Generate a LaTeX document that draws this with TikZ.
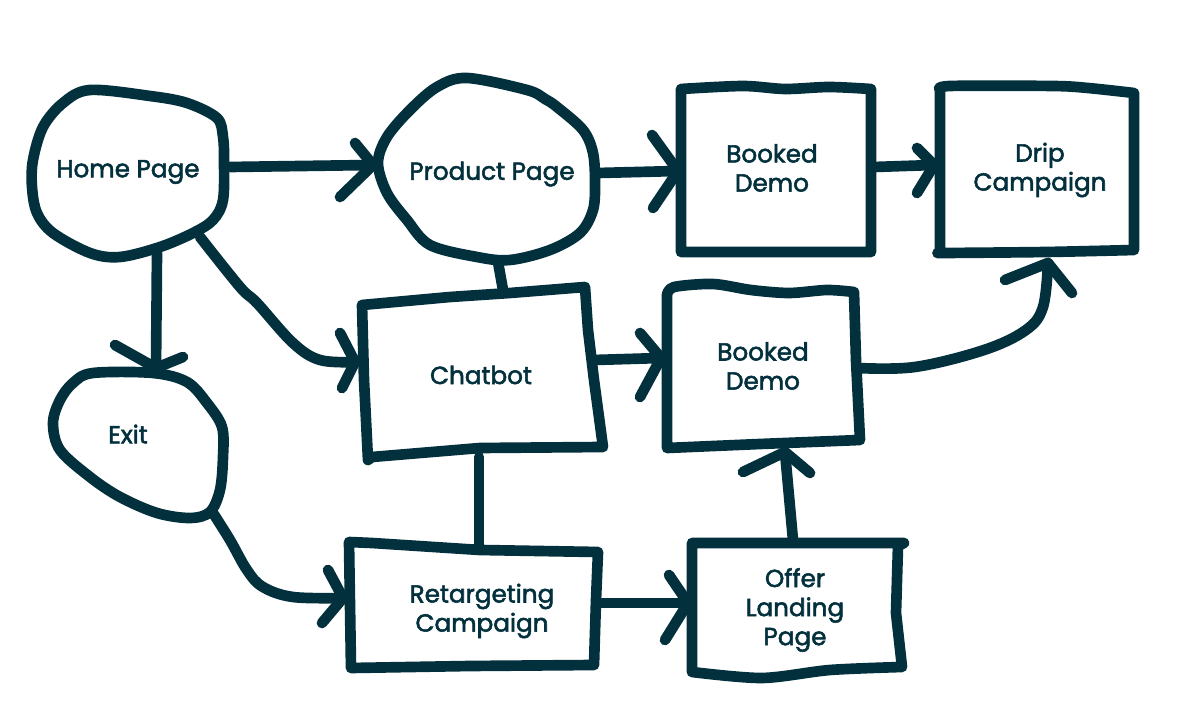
\documentclass[tikz,border=0pt]{standalone}
\usepackage{fontspec}
\setmainfont{Poppins}[FakeBold=2.2]
\usetikzlibrary{calc}
\definecolor{ink}{HTML}{03303D}
\begin{document}
\begin{tikzpicture}[x=0.75pt,y=-0.75pt,
  ln/.style={draw=ink,line width=8pt,line cap=round,line join=round},
  lbl/.style={text=ink,font=\fontsize{18.5pt}{21.8pt}\selectfont,align=center,inner sep=0pt}]
\useasboundingbox (0,0) rectangle (1200,705);
% ---------- shapes ----------
% Home Page blob
\draw[ln] plot[smooth cycle,tension=0.55] coordinates {(90,90) (150,96) (187,103) (217,118) (223,137) (224,160) (223,200) (213,220) (193,233) (160,247) (120,257) (90,253) (53,233) (37,213) (32,187) (33,160) (43,127) (63,103)};
% Product Page blob
\draw[ln] plot[smooth cycle,tension=0.55] coordinates {(467,78) (527,90) (545,99) (557,107) (583,130) (593,153) (595,183) (593,210) (580,233) (550,250) (510,260) (477,257) (430,245) (407,220) (387,193) (378,163) (387,137) (410,110) (437,87)};
% Exit blob
\draw[ln] plot[smooth cycle,tension=0.55] coordinates {(93,373) (153,373) (187,382) (207,403) (222,427) (223,457) (220,490) (210,512) (190,518) (157,513) (120,497) (90,477) (60,450) (53,423) (60,400) (73,383)};
% Booked Demo (top)
\draw[ln] plot[smooth,tension=0.5] coordinates {(681,89) (743,86) (785,89) (829,87) (871,89)} -- (871,252) -- (681,252) -- cycle;
% Drip Campaign
\draw[ln] plot[smooth,tension=0.5] coordinates {(940,90) (950,86) (1053,86) (1088,88) (1134,93)} -- (1134,250) -- plot[smooth,tension=0.5] coordinates {(1134,250) (1046,252) (946,253) (940,253)} -- cycle;
% Chatbot
\draw[ln] (362,305) -- (450,297) -- (510,293) -- (585,287) -- (588,330) -- (594,380) -- (603,447) -- (480,448) -- (372,457) -- (368,460) -- (364,380) -- cycle;
% Booked Demo (middle)
\draw[ln] plot[smooth,tension=0.5] coordinates {(667,295) (674,287) (713,284) (751,290) (789,293) (827,290) (854,292)} -- (856,360) -- (860,440) -- (760,444) -- (667,448) -- cycle;
% Retargeting Campaign
\draw[ln] (349,542) -- (372,543) -- (480,550) -- (598,552) -- (596,600) -- (594,665) -- (470,666) -- (351,668) -- cycle;
% Offer Landing Page
\draw[ln] (692,543) -- (904,543) -- (898,546) -- (896,613) -- (902,667) -- plot[smooth,tension=0.5] coordinates {(902,667) (830,670) (762,678) (692,672)} -- cycle;
% ---------- labels ----------
\node[lbl] (hp) at (128,172) {Home Page};
\node[lbl] (pp) at (492,174) {Product Page};
\node[lbl] (bd1) at (772,168) {Booked\\Demo};
\node[lbl] (dc) at (1040,170) {Drip\\Campaign};
\node[lbl] (cb) at (481,375) {Chatbot};
\node[lbl] (bd2) at (763,366) {Booked\\Demo};
\node[lbl] (ex) at (128,434) {Exit};
\node[lbl] (rc) at (482,611) {Retargeting\\Campaign};
\node[lbl] (ol) at (795,610) {Offer\\Landing\\Page};
% ---------- connector end points ----------
\coordinate (hp-e) at (230,167);  \coordinate (pp-w) at (373,165);
\coordinate (pp-e) at (598,173);  \coordinate (bd1-w) at (678,171);
\coordinate (bd1-e) at (874,167); \coordinate (dc-w) at (934,165);
\coordinate (hp-s) at (157,253);  \coordinate (ex-n) at (156,368);
\coordinate (hp-se) at (200,237); \coordinate (cb-w) at (355,362);
\coordinate (pp-s) at (498,262);  \coordinate (cb-n) at (503,290);
\coordinate (cb-e) at (594,360);  \coordinate (bd2-w) at (661,358);
\coordinate (bd2-e) at (858,368); \coordinate (dc-s) at (1048,263);
\coordinate (cb-s) at (479,457);  \coordinate (rc-n) at (479,545);
\coordinate (ex-se) at (213,513); \coordinate (rc-w) at (343,598);
\coordinate (rc-e) at (598,603);  \coordinate (ol-w) at (688,603);
\coordinate (ol-n) at (793,540);  \coordinate (bd2-s) at (785,452);
% ---------- connectors ----------
\draw[ln] (hp-e) -- (pp-w);
\draw[ln] ($(pp-w)+(-18,-22)$) -- (pp-w) -- ($(pp-w)+(-33,32)$);
\draw[ln] (pp-e) -- (bd1-w);
\draw[ln] ($(bd1-w)+(-26,-36)$) -- (bd1-w) -- ($(bd1-w)+(-25,37)$);
\draw[ln] (bd1-e) -- (dc-w);
\draw[ln] ($(dc-w)+(-17,-17)$) -- (dc-w) -- ($(dc-w)+(-17,28)$);
\draw[ln] (hp-s) -- (ex-n);
\draw[ln] ($(ex-n)+(-41,-23)$) -- (ex-n) -- ($(ex-n)+(27,-11)$);
\draw[ln] plot[smooth,tension=0.6] coordinates {(hp-se) (240,287) (257,303) (293,343) (320,360) (cb-w)};
\draw[ln] ($(cb-w)+(-15,-29)$) -- (cb-w) -- ($(cb-w)+(-13,26)$);
\draw[ln] (pp-s) -- (cb-n);
\draw[ln] (cb-e) -- (bd2-w);
\draw[ln] ($(bd2-w)+(-21,-25)$) -- (bd2-w) -- ($(bd2-w)+(-21,39)$);
\draw[ln] plot[smooth,tension=0.6] coordinates {(bd2-e) (915,367) (984,350) (1026,330) (1043,307) (dc-s)};
\draw[ln] ($(dc-s)+(-43,17)$) -- (dc-s) -- ($(dc-s)+(24,30)$);
\draw[ln] (cb-s) -- (rc-n);
\draw[ln] plot[smooth,tension=0.6] coordinates {(ex-se) (230,540) (247,570) (263,587) (293,597) (rc-w)};
\draw[ln] ($(rc-w)+(-15,-28)$) -- (rc-w) -- ($(rc-w)+(-21,25)$);
\draw[ln] (rc-e) -- (ol-w);
\draw[ln] ($(ol-w)+(-19,-28)$) -- (ol-w) -- ($(ol-w)+(-23,37)$);
\draw[ln] (ol-n) -- (bd2-s);
\draw[ln] ($(bd2-s)+(-42,20)$) -- (bd2-s) -- ($(bd2-s)+(25,21)$);
\end{tikzpicture}
\end{document}
